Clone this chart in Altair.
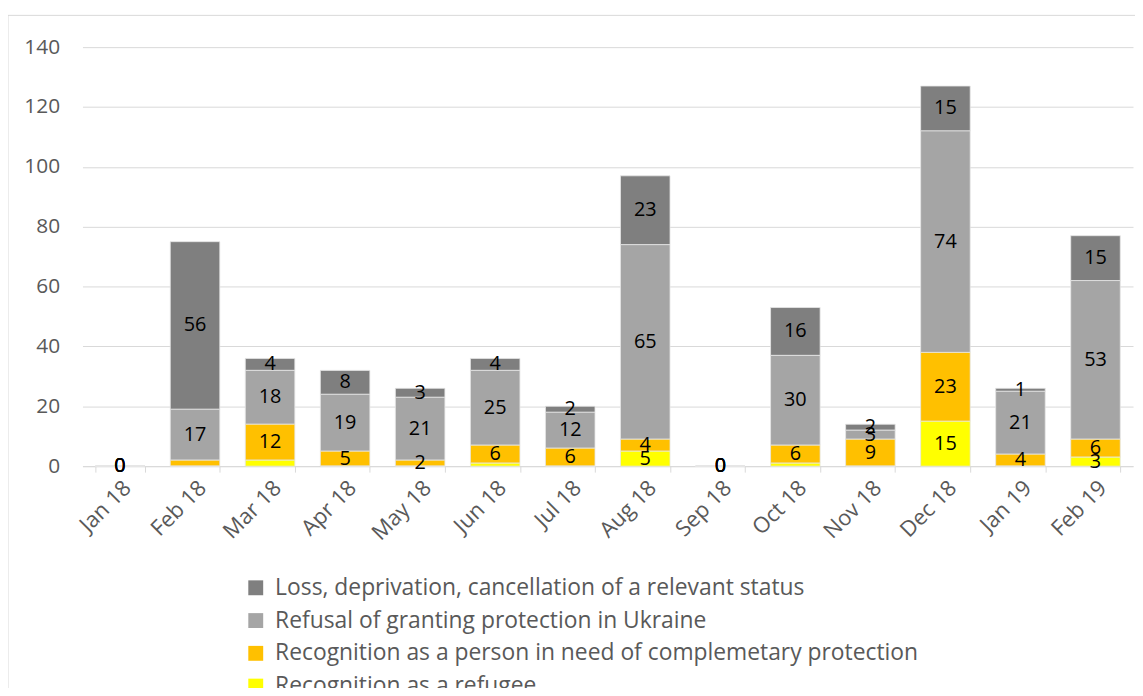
import altair as alt
import pandas as pd

months = ["Jan 18", "Feb 18", "Mar 18", "Apr 18", "May 18", "Jun 18", "Jul 18",
          "Aug 18", "Sep 18", "Oct 18", "Nov 18", "Dec 18", "Jan 19", "Feb 19"]

series_names = [
    "Loss, deprivation, cancellation of a relevant status",
    "Refusal of granting protection in Ukraine",
    "Recognition as a person in need of complemetary protection",
    "Recognition as a refugee",
]
series_colors = ["#7f7f7f", "#a5a5a5", "#ffc000", "#ffff00"]

# None = blank cell (no segment, no label)
refugee = [0, None, 2, None, None, 1, None, 5, 0, 1, None, 15, None, 3]
complementary = [0, 2, 12, 5, 2, 6, 6, 4, 0, 6, 9, 23, 4, 6]
refusal = [0, 17, 18, 19, 21, 25, 12, 65, 0, 30, 3, 74, 21, 53]
loss = [0, 56, 4, 8, 3, 4, 2, 23, 0, 16, 2, 15, 1, 15]

# data labels that are not displayed in the original
hidden_labels = [("Feb 18", 2), ("Mar 18", 3), ("Jun 18", 3), ("Oct 18", 3)]

stack_values = [loss, refusal, complementary, refugee]  # same order as series_names

rows = []
for si, (name, vals) in enumerate(zip(series_names, stack_values)):
    for m, v in zip(months, vals):
        show = v is not None and (m, si) not in hidden_labels
        rows.append({
            "month": m,
            "series": name,
            "ord": 3 - si,
            "value": 0 if v is None else v,
            "label": str(v) if show else "",
        })
df = pd.DataFrame(rows)

FONT = "Open Sans"
TXT = "#595959"
GRID = "#d9d9d9"

x_enc = alt.X("month:N", sort=months, title=None,
              scale=alt.Scale(paddingInner=0.34, paddingOuter=0.17),
              axis=alt.Axis(labelAngle=-45, labelFontSize=22, labelColor=TXT,
                            labelFont=FONT, domainColor=GRID, tickColor=GRID,
                            tickSize=6, tickBand="extent", grid=False,
                            labelPadding=5))

bars = alt.Chart(df).mark_bar(stroke="#e6e6e6", strokeWidth=0.8).encode(
    x=x_enc,
    y=alt.Y("value:Q", stack="zero", title=None,
            scale=alt.Scale(domain=[0, 140], nice=False),
            axis=alt.Axis(values=list(range(0, 141, 20)), labelFontSize=21,
                          labelColor=TXT, labelFont=FONT, domain=False,
                          ticks=False, labelPadding=23, gridColor=GRID,
                          gridWidth=1)),
    color=alt.Color("series:N",
                    scale=alt.Scale(domain=series_names, range=series_colors),
                    legend=alt.Legend(orient="none", legendX=163, legendY=533,
                                      direction="vertical", title=None,
                                      symbolType="square", symbolSize=225,
                                      symbolStrokeWidth=0, labelFontSize=23,
                                      labelFont=FONT, labelColor=TXT,
                                      labelOffset=8,
                                      rowPadding=9, labelLimit=900,
                                      symbolOpacity=1)),
    order=alt.Order("ord:Q", sort="ascending"),
)

labels = alt.Chart(df).transform_stack(
    stack="value", groupby=["month"], sort=[alt.SortField("ord", order="ascending")],
    as_=["y0", "y1"]
).transform_calculate(
    mid="(datum.y0 + datum.y1) / 2"
).transform_filter(
    "datum.label != ''"
).mark_text(font=FONT, fontSize=20, color="#000000", baseline="middle",
            align="center").encode(
    x=alt.X("month:N", sort=months),
    y=alt.Y("mid:Q"),
    text="label:N",
)

frame = alt.Chart(pd.DataFrame({"a": [0]})).mark_rect(
    fill=None, stroke=GRID, strokeWidth=1
).encode(
    x=alt.value(-75), x2=alt.value(1070), y=alt.value(-32), y2=alt.value(700)
)

chart = alt.layer(frame, bars, labels).properties(
    width=1058, height=422,
    autosize=alt.AutoSizeParams(type="none"),
    padding={"left": 75, "top": 37, "right": 2, "bottom": 221},
).configure_view(stroke=None)

chart.save("out.html", embed_options={"renderer": "svg", "actions": False})
